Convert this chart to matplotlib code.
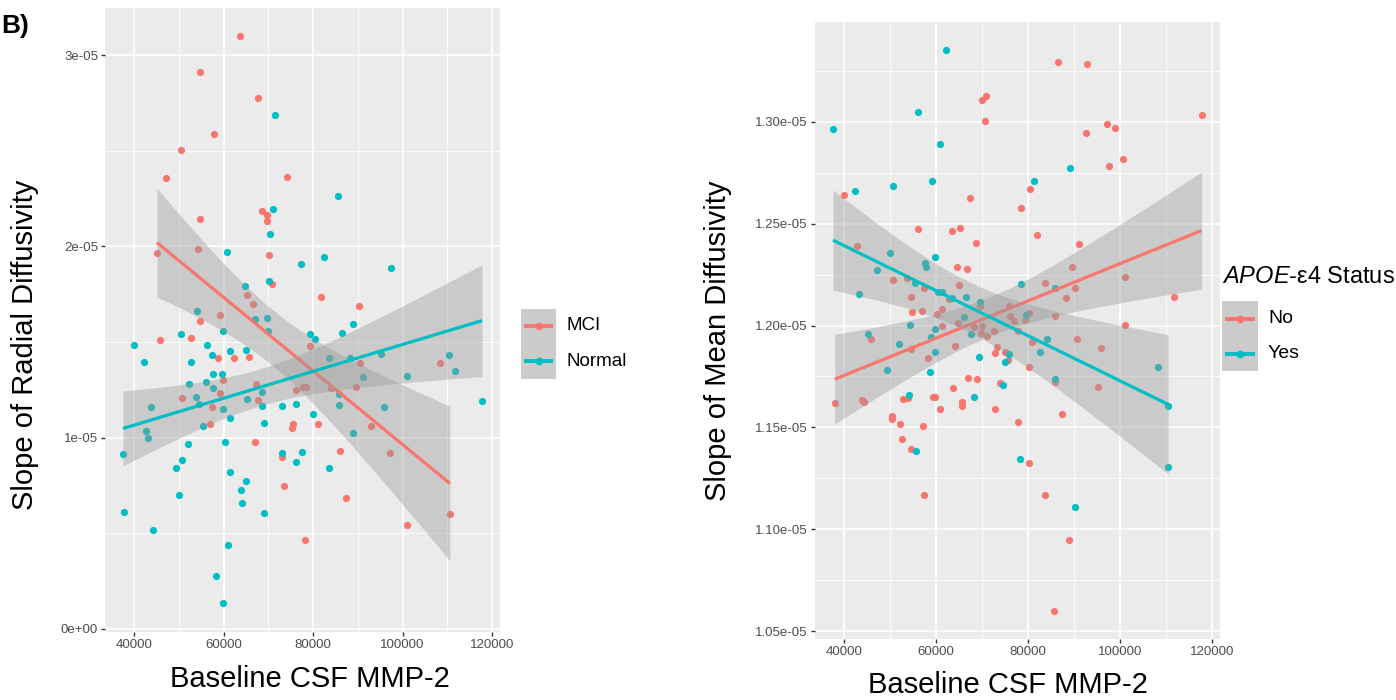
import numpy as np
import matplotlib
matplotlib.use("Agg")
import matplotlib.pyplot as plt
from matplotlib.lines import Line2D
from matplotlib.patches import Rectangle

# ---------------- data (y values in units of 1e-05) ----------------
rd_mci_x = [63760, 54660, 67595, 57970, 50450, 47070, 74210, 54740, 68500, 69775, 69625, 70150,
            45110, 54290, 70830, 65340, 66690, 59170, 54810, 45710, 52630, 58790, 62330, 65790,
            59840, 67140, 59095, 50750, 67745, 57370, 56990, 75410, 75190, 67070, 73080, 73460, 76170,
            81795, 90170, 79330, 90540, 108340, 77760, 78355, 84110, 89570, 81050, 92860, 85910,
            97200, 87400, 78280, 101010, 110580]
rd_mci_y = [3.099, 2.912, 2.778, 2.585, 2.505, 2.360, 2.364, 2.144, 2.186, 2.163, 2.133, 1.955,
            1.967, 1.986, 1.806, 1.747, 1.701, 1.642, 1.612, 1.512, 1.522, 1.415, 1.415, 1.421,
            1.302, 1.283, 1.235, 1.207, 1.195, 1.163, 1.071, 1.069, 1.048, 0.978, 0.897, 0.750, 1.247,
            1.734, 1.688, 1.480, 1.392, 1.392, 1.266, 1.266, 1.262, 1.266, 1.073, 1.060, 0.928,
            0.920, 0.687, 0.464, 0.542, 0.600]
rd_nor_x = [71430, 71130, 70300, 60750, 77220, 70225, 64740, 54060, 66990, 69700, 70000, 59850,
            50600, 39925, 56240, 57445, 61500, 65110, 42330, 52780, 57670, 59550, 52180, 56165,
            57670, 53835, 65340, 68500, 54510, 43760, 59780, 68570, 73080, 76090, 61500, 55490,
            68950, 42710, 43160, 60300, 37520, 52030, 73160, 50750, 76170, 49470, 61350, 64965,
            63910, 50075, 64135, 69100, 37820, 44285, 61050, 58350, 59775,
            85610, 82470, 97500, 88970, 79330, 80450, 86360, 83590, 88150, 95250, 110430, 111780,
            101010, 91140, 85760, 85830, 95850, 80000, 88900, 77610, 83590, 117760]
rd_nor_y = [2.685, 2.194, 2.066, 1.969, 1.906, 1.820, 1.791, 1.661, 1.619, 1.627, 1.556, 1.558,
            1.541, 1.484, 1.484, 1.434, 1.451, 1.459, 1.396, 1.396, 1.331, 1.335, 1.283, 1.291,
            1.258, 1.214, 1.201, 1.237, 1.176, 1.161, 1.151, 1.165, 1.167, 1.174, 1.104, 1.062,
            1.075, 1.035, 0.999, 0.978, 0.915, 0.966, 0.920, 0.884, 0.873, 0.842, 0.823, 0.771,
            0.729, 0.701, 0.657, 0.605, 0.609, 0.519, 0.437, 0.275, 0.134,
            2.263, 1.942, 1.887, 1.594, 1.541, 1.514, 1.547, 1.415, 1.419, 1.436, 1.434, 1.348,
            1.325, 1.318, 1.228, 1.172, 1.161, 1.123, 1.022, 0.924, 0.842, 1.193]

md_no_x = [40000, 42900, 56090, 50720, 53770, 57390, 54630, 64490, 64930, 54700, 56880, 60150,
           61370, 62900, 61230, 64850,
           86450, 92900, 70070, 70870, 70580, 117760, 97250, 98840, 92680, 100580, 97540, 67390,
           80510, 78550, 63480, 65220, 68700, 81890, 91150, 66740, 89570, 101010, 83700, 111740,
           90150, 88200, 69500, 75930, 76010, 76880, 79350, 80290, 85800, 101010, 68260, 69930,
           72670, 69720, 71020, 77830, 90580,
           45800, 54570, 58200, 37970, 43850, 44280, 52720, 54020, 59420, 59860, 60870, 63760,
           50510, 50510, 52170, 57170, 52540, 54570, 57390,
           64090, 66960, 68850, 65580, 65720, 72750, 73260, 72830, 74930, 75720, 73980, 80150,
           80940, 95870, 85800, 95290, 77830, 87460, 80220, 83700, 88910, 85720]
md_no_y = [1.2643, 1.2392, 1.2474, 1.2224, 1.2232, 1.2186, 1.2142, 1.2289, 1.2199, 1.2065, 1.2072, 1.2057,
           1.2082, 1.2131, 1.1998, 1.2011,
           1.3293, 1.3285, 1.3108, 1.3129, 1.3003, 1.3034, 1.2990, 1.2972, 1.2946, 1.2817, 1.2784, 1.2628,
           1.2672, 1.2579, 1.2462, 1.2481, 1.2406, 1.2444, 1.2402, 1.2277, 1.2288, 1.2237, 1.2211, 1.2140,
           1.2183, 1.2134, 1.2096, 1.2098, 1.2047, 1.2021, 1.2029, 1.2062, 1.2049, 1.2003, 1.1993, 1.2000,
           1.1972, 1.1963, 1.1949, 1.1972, 1.1936,
           1.1936, 1.1887, 1.1841, 1.1622, 1.1636, 1.1625, 1.1638, 1.1644, 1.1648, 1.1648, 1.1592, 1.1692,
           1.1555, 1.1540, 1.1516, 1.1506, 1.1443, 1.1396, 1.1169,
           1.1900, 1.1744, 1.1737, 1.1627, 1.1607, 1.1591, 1.1893, 1.1867, 1.1872, 1.1831, 1.1720, 1.1796,
           1.1918, 1.1891, 1.1725, 1.1697, 1.1528, 1.1564, 1.1327, 1.1167, 1.0947, 1.0600]
md_yes_x = [62170, 37610, 56090, 60940, 42390, 50650, 59060, 50000, 47170, 43260, 59710, 57680,
            57900, 55430, 60430, 61370, 54350, 45220, 59710, 58910,
            89060, 81240, 78480, 85940, 66450, 69630, 79500, 66020, 67540, 63410, 84200,
            51960, 59710, 49420, 58630, 54200, 55590,
            69410, 75800, 75000, 74500, 68330, 82540, 85870, 108260, 110370, 110500, 78260, 90220]
md_yes_y = [1.3354, 1.2964, 1.3049, 1.2893, 1.2661, 1.2687, 1.2712, 1.2355, 1.2275, 1.2154, 1.2335, 1.2306,
            1.2289, 1.2209, 1.2164, 1.2164, 1.2004, 1.1960, 1.1983, 1.1946,
            1.2776, 1.2709, 1.2204, 1.2185, 1.2139, 1.2117, 1.2052, 1.2041, 1.1959, 1.2137, 1.1933,
            1.1911, 1.1870, 1.1780, 1.1772, 1.1658, 1.1383,
            1.1847, 1.1859, 1.1823, 1.1708, 1.1648, 1.1872, 1.1739, 1.1798, 1.1604, 1.1304, 1.1347, 1.1111]

x_major = [40000, 60000, 80000, 100000, 120000]
x_minor = [50000, 70000, 90000, 110000]
rd_yticks = [0, 1, 2, 3]
rd_yminor = [0.5, 1.5, 2.5]
rd_ylabels = ["0e+00", "1e-05", "2e-05", "3e-05"]
md_yticks = [1.05, 1.10, 1.15, 1.20, 1.25, 1.30]
md_yminor = [1.075, 1.125, 1.175, 1.225, 1.275, 1.325]
md_ylabels = ["1.05e-05", "1.10e-05", "1.15e-05", "1.20e-05", "1.25e-05", "1.30e-05"]
rd_groups = ["MCI", "Normal"]
md_groups = ["No", "Yes"]

RED, TEAL = "#F8766D", "#00BFC4"

# ---------------- figure ----------------
plt.rcParams["font.family"] = ["Liberation Sans", "DejaVu Sans"]
plt.rcParams["mathtext.fontset"] = "custom"
plt.rcParams["mathtext.it"] = "Liberation Sans:italic"
plt.rcParams["mathtext.rm"] = "Liberation Sans"

W, H = 1396, 700
fig = plt.figure(figsize=(W / 100, H / 100), dpi=100)


def fx(px):
    return px / W


def fy(py):
    return 1 - py / H


def tcrit(df):
    z = 1.959964
    g1 = (z**3 + z) / 4
    g2 = (5 * z**5 + 16 * z**3 + 3 * z) / 96
    g3 = (3 * z**7 + 19 * z**5 + 17 * z**3 - 15 * z) / 384
    return z + g1 / df + g2 / df**2 + g3 / df**3


def lm_band(x, y, n=80):
    x = np.asarray(x, float)
    y = np.asarray(y, float)
    b, a = np.polyfit(x, y, 1)
    xs = np.linspace(x.min(), x.max(), n)
    yh = a + b * xs
    res = y - (a + b * x)
    s = np.sqrt(np.sum(res**2) / (len(x) - 2))
    sxx = np.sum((x - x.mean()) ** 2)
    se = s * np.sqrt(1 / len(x) + (xs - x.mean()) ** 2 / sxx)
    t = tcrit(len(x) - 2)
    return xs, yh, yh - t * se, yh + t * se


def expand(vals):
    lo, hi = min(vals), max(vals)
    r = hi - lo
    return lo - 0.05 * r, hi + 0.05 * r


def make_panel(rect, groups, yticks, yminor, ylabels):
    ax = fig.add_axes(rect)
    ax.set_facecolor("#EBEBEB")
    for s in ax.spines.values():
        s.set_visible(False)
    for x, y, c in groups:
        ax.scatter(x, y, s=27, color=c, linewidths=0, zorder=2)
    for x, y, c in groups:
        xs, yh, lo, hi = lm_band(x, y)
        ax.fill_between(xs, lo, hi, color="#999999", alpha=0.4, linewidth=0, zorder=3)
        ax.plot(xs, yh, color=c, lw=2.3, zorder=3, solid_capstyle="butt")
    allx = [v for g in groups for v in g[0]]
    ally = [v for g in groups for v in g[1]]
    ax.set_xlim(*expand(allx))
    ax.set_ylim(*expand(ally))
    ax.set_xticks(x_major)
    ax.set_xticks(x_minor, minor=True)
    ax.set_xticklabels([str(v) for v in x_major])
    ax.set_yticks(yticks)
    ax.set_yticks(yminor, minor=True)
    ax.set_yticklabels(ylabels)
    ax.grid(which="major", color="white", lw=1.2)
    ax.grid(which="minor", color="white", lw=0.6)
    ax.set_axisbelow(True)
    ax.tick_params(which="major", length=3, width=1, color="#333333",
                   labelcolor="#4D4D4D", labelsize=9.5, pad=2)
    ax.tick_params(which="minor", length=0)
    return ax


axL = make_panel([fx(105), fy(631.7), fx(500) - fx(105), fy(7.8) - fy(631.7)],
                 [(rd_mci_x, rd_mci_y, RED), (rd_nor_x, rd_nor_y, TEAL)],
                 rd_yticks, rd_yminor, rd_ylabels)
axR = make_panel([fx(814.6), fy(638.7), fx(1220) - fx(814.6), fy(21.8) - fy(638.7)],
                 [(md_no_x, md_no_y, RED), (md_yes_x, md_yes_y, TEAL)],
                 md_yticks, md_yminor, md_ylabels)

# axis titles
fig.text(fx(25), fy(345), "Slope of Radial Diffusivity", rotation=90, ha="center", va="center", fontsize=21)
fig.text(fx(310), fy(679), "Baseline CSF MMP-2", ha="center", va="center", fontsize=21)
fig.text(fx(718), fy(341), "Slope of Mean Diffusivity", rotation=90, ha="center", va="center", fontsize=21)
fig.text(fx(1008), fy(685), "Baseline CSF MMP-2", ha="center", va="center", fontsize=21)
fig.text(fx(1), fy(26), "B)", ha="left", va="center", fontsize=19, fontweight="bold")


def draw_legend(x0, x1, ytop, keyh, labels, colors, label_x, fs):
    fig.add_artist(Rectangle((fx(x0), fy(ytop + keyh * len(labels))), fx(x1) - fx(x0),
                             fy(ytop) - fy(ytop + keyh * len(labels)),
                             transform=fig.transFigure, facecolor="#CBCBCB", edgecolor="none"))
    for i, (lab, col) in enumerate(zip(labels, colors)):
        yc = ytop + keyh * (i + 0.5)
        fig.add_artist(Line2D([fx(x0 + 3), fx(x1 - 3)], [fy(yc), fy(yc)], transform=fig.transFigure,
                              color=col, lw=2.8, solid_capstyle="butt"))
        fig.add_artist(Line2D([fx((x0 + x1) / 2)], [fy(yc)], transform=fig.transFigure,
                              color=col, marker="o", markersize=5.5, markeredgewidth=0, linestyle="none"))
        fig.text(fx(label_x), fy(yc), lab, ha="left", va="center", fontsize=fs, color="black")


draw_legend(521, 556, 308.5, 35, rd_groups, [RED, TEAL], 566, 13.5)
fig.text(fx(1222), fy(277), r"$\mathit{APOE}$-ε4 Status", ha="left", va="center", fontsize=17)
draw_legend(1222, 1258, 301, 35, md_groups, [RED, TEAL], 1268, 14)

fig.savefig("out.png", dpi=100, facecolor="white")
